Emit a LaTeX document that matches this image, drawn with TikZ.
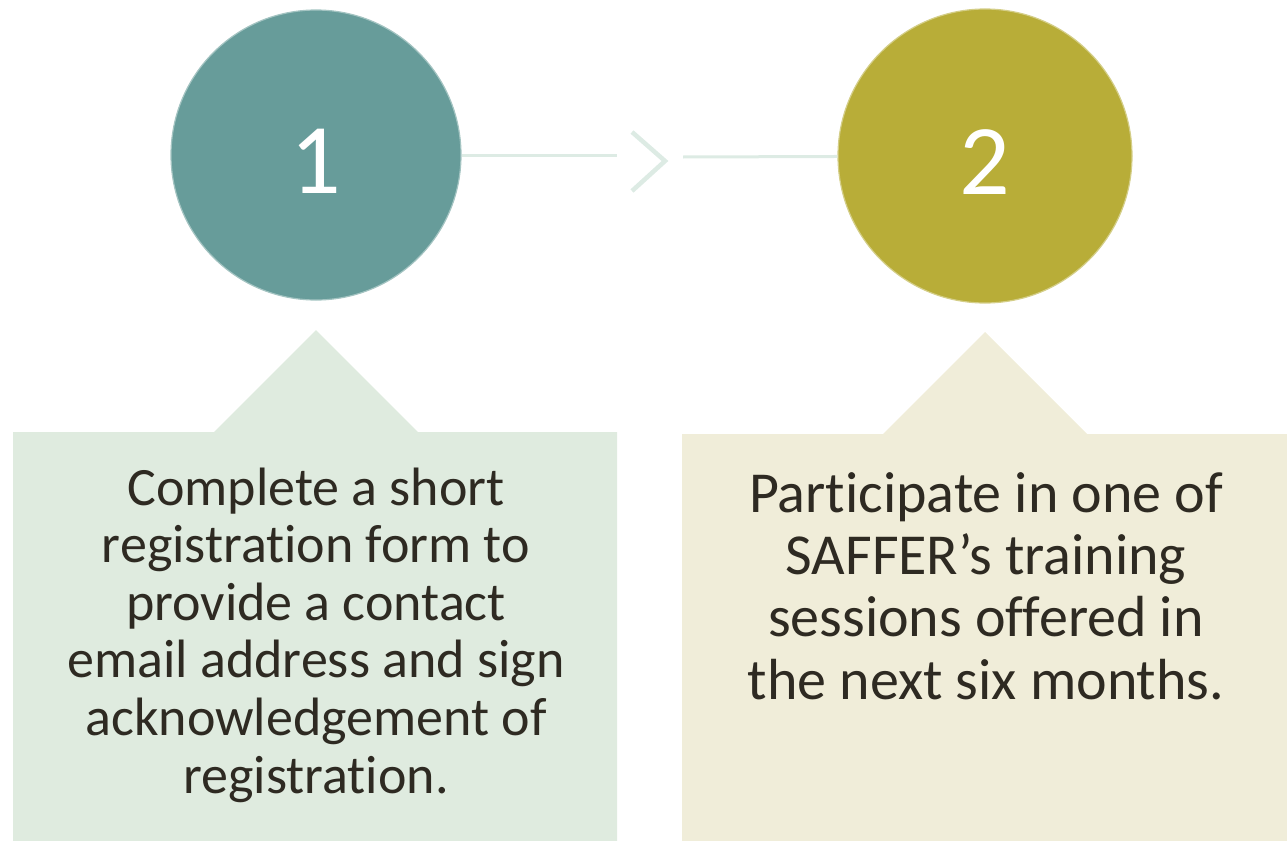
\documentclass[tikz,border=0pt]{standalone}
\usepackage{fontspec}
\setmainfont{Carlito}[Ligatures=NoCommon]
\usepackage{tikz}
\usetikzlibrary{positioning}

\definecolor{tealdot}{HTML}{679C9A}
\definecolor{olivedot}{HTML}{B8AD38}
\definecolor{tealbox}{HTML}{DFEBDF}
\definecolor{olivebox}{HTML}{F0EDD9}
\definecolor{linkline}{HTML}{DDEBE4}
\definecolor{bodytext}{HTML}{2E2A22}

\begin{document}
\begin{tikzpicture}[x=1bp,y=-1bp,
		stepdot/.style={circle, minimum size=290bp, inner sep=0pt, text=white, line width=1.2bp,
			font=\fontsize{100bp}{100bp}\selectfont, text height=76bp, text depth=0bp},
		link/.style={draw=linkline, line width=3bp},
		steptext/.style={anchor=base, align=center, inner sep=0pt, text=bodytext}]
	\useasboundingbox (0,0) rectangle (1287,841);
	% callout boxes
	\fill[tealbox] (13,432) -- (214,432) -- (316,330) -- (418,432) -- (617,432) -- (617,841) -- (13,841) -- cycle;
	\fill[olivebox] (682,434) -- (883,434) -- (985,332) -- (1087,434) -- (1287,434) -- (1287,841) -- (682,841) -- cycle;
	% circles
	\node[stepdot, fill=tealdot, draw=tealdot!60!white] (c1) at (316,155) {1};
	\node[stepdot, fill=olivedot, draw=olivedot!60!white, minimum size=294bp] (c2) at (985,156) {2};
	% arrow between the steps
	\coordinate (g1) at (617,155);
	\coordinate (g2) at (683,157);
	\coordinate (tip) at (665,161);
	\draw[link] (c1) -- (g1);
	\draw[link] (g2) -- (c2);
	\draw[link, line width=4.5bp] ([shift={(-33,-29)}]tip) -- (tip) -- ([shift={(-33,30)}]tip);
	% texts (base = last line)
	\node[steptext, font=\fontsize{54bp}{57.6bp}\selectfont] (t1) at (316,793)
		{Complete a short\\registration form to\\provide a contact\\email address and sign\\acknowledgement of\\registration.};
	\node[steptext, font=\fontsize{58bp}{62.3bp}\selectfont] (t2) at (986,699)
		{Participate in one of\\SAFFER’s training\\sessions offered in\\the next six months.};
\end{tikzpicture}
\end{document}
